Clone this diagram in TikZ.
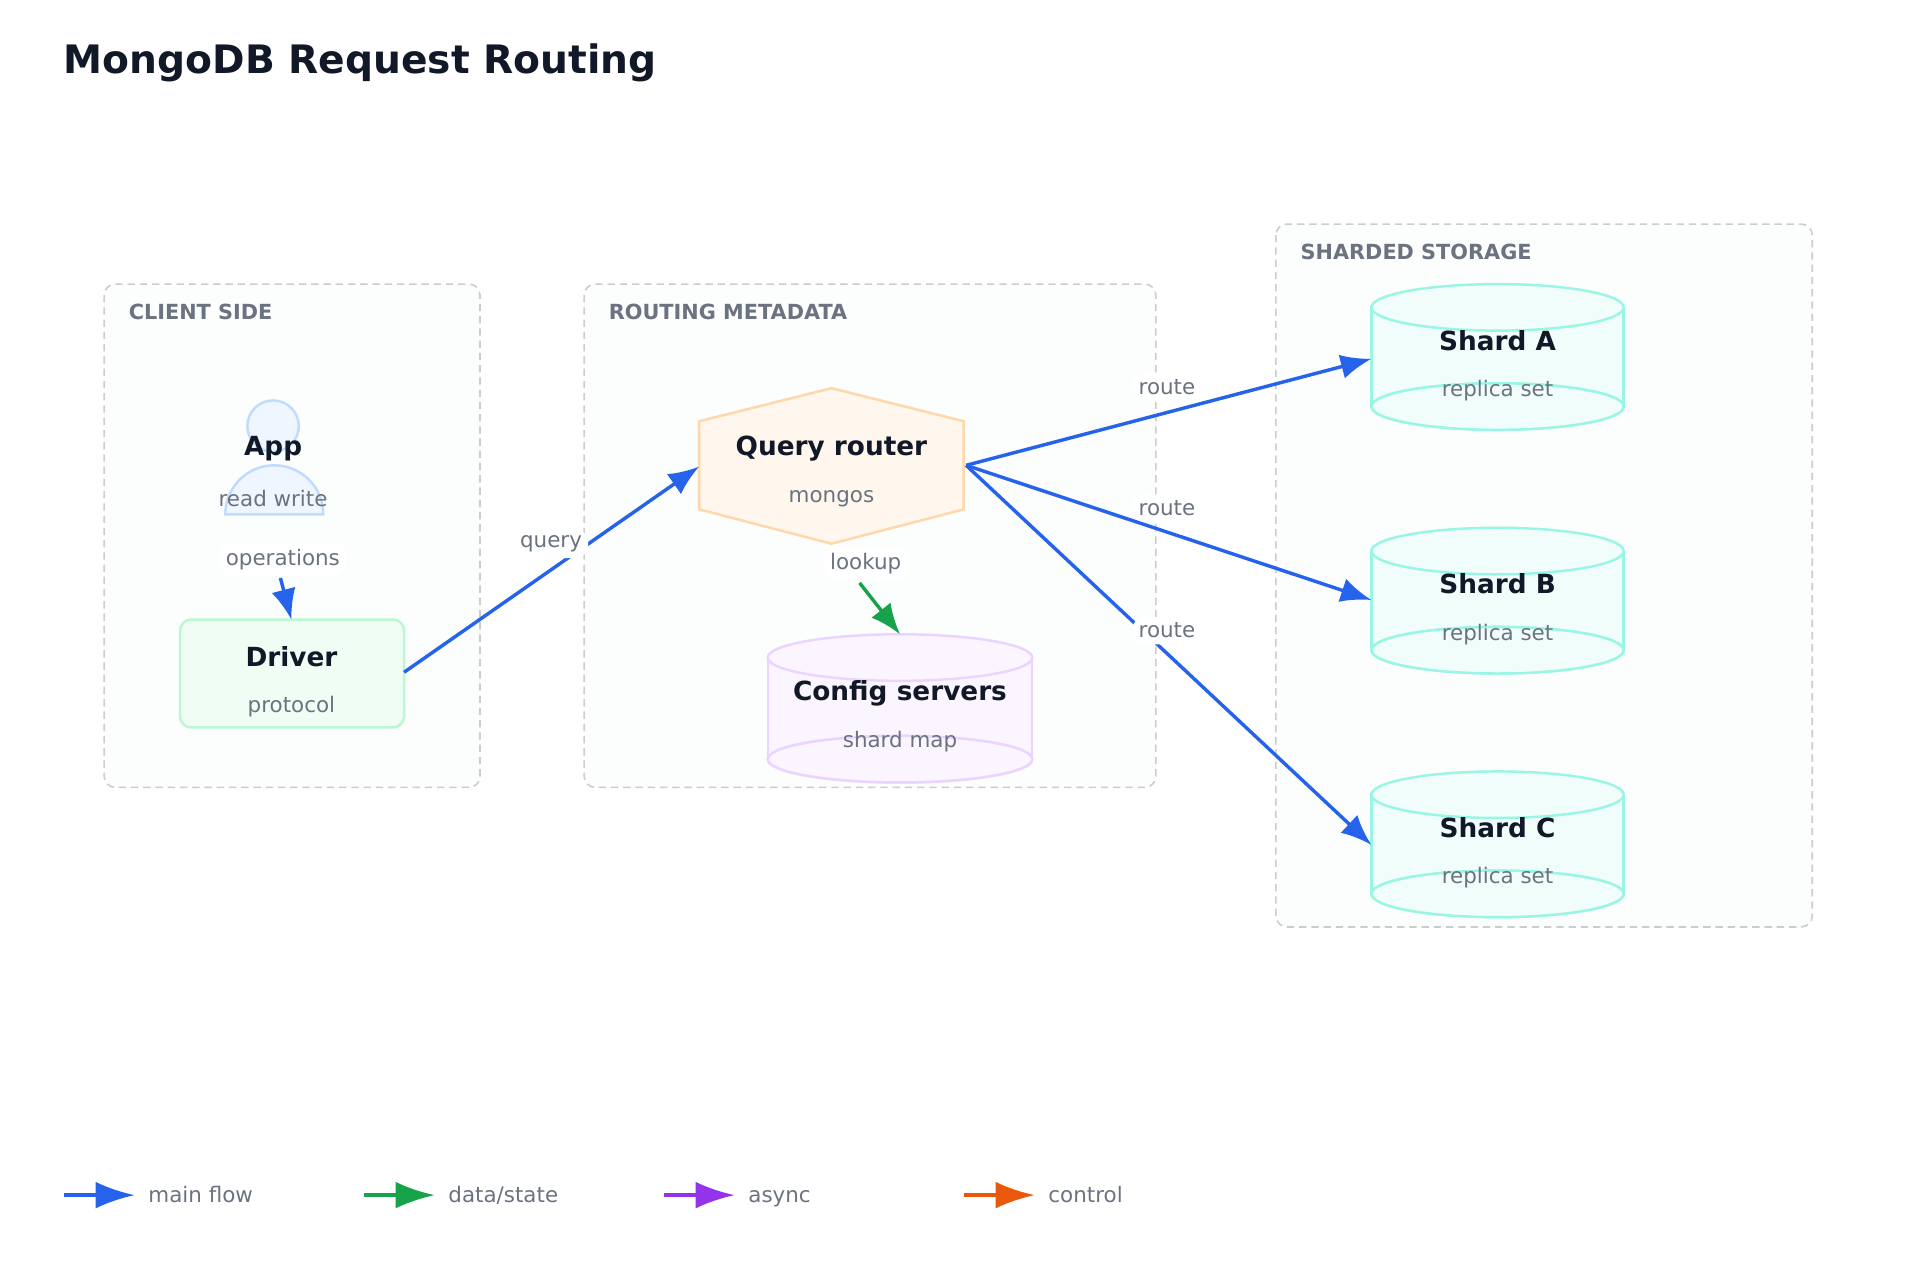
\documentclass[tikz,border=0pt]{standalone}
\usepackage{fontspec}
\setmainfont{DejaVu Sans}
\usetikzlibrary{arrows.meta}
\definecolor{ink}{HTML}{111827}
\definecolor{mute}{HTML}{6B7280}
\definecolor{blu}{HTML}{2563EB}
\definecolor{grn}{HTML}{16A34A}
\definecolor{pur}{HTML}{9333EA}
\definecolor{org}{HTML}{EA580C}
\definecolor{appS}{HTML}{BFDBFE}\definecolor{appF}{HTML}{EFF6FF}
\definecolor{drvS}{HTML}{BBF7D0}\definecolor{drvF}{HTML}{F0FDF4}
\definecolor{hexS}{HTML}{FED7AA}\definecolor{hexF}{HTML}{FFF7ED}
\definecolor{cfgS}{HTML}{E9D5FF}\definecolor{cfgF}{HTML}{FAF5FF}
\definecolor{shS}{HTML}{99F6E4}\definecolor{shF}{HTML}{F0FDFA}
\definecolor{grpF}{HTML}{FCFDFD}
\tikzset{
 grp/.style={draw=black!20,dash pattern=on 6pt off 4pt,line width=1.3pt,fill=grpF,rounded corners=9pt},
 glab/.style={anchor=west,text=mute,font=\fontsize{17}{20}\selectfont\bfseries},
 ttl/.style={text=ink,font=\fontsize{21.5}{25}\selectfont\bfseries},
 sub/.style={text=mute,font=\fontsize{17.5}{20}\selectfont},
 elab/.style={text=mute,fill=white,rounded corners=10pt,inner sep=5pt,font=\fontsize{17.5}{20}\selectfont},
 arr/.style={line width=2.8pt,-{Latex[length=25pt,width=20pt]}},
}
\begin{document}
\begin{tikzpicture}[x=1pt,y=-1pt]
\useasboundingbox (0,0) rectangle (1568,1045);
\node[anchor=west,text=ink,font=\fontsize{32}{38}\selectfont\bfseries,inner sep=0pt] (title) at (52,51) {MongoDB Request Routing};
% groups
\draw[grp] (85,232) rectangle (392,643);
\node[glab,inner sep=0pt] (g1) at (105,255) {CLIENT SIDE};
\draw[grp] (477,232) rectangle (944,643);
\node[glab,inner sep=0pt] (g2) at (497,255) {ROUTING METADATA};
\draw[grp] (1042,183) rectangle (1480,757);
\node[glab,inner sep=0pt] (g3) at (1062,206) {SHARDED STORAGE};
% App person
\filldraw[draw=appS,fill=appF,line width=2pt] (223,348) circle (21);
\filldraw[draw=appS,fill=appF,line width=2pt] (184,420) arc[start angle=180,end angle=0,x radius=40,y radius=-40] -- cycle;
\node[ttl] (app) at (223,366) {App};
\node[sub] (appsub) at (223,407) {read write};
\coordinate (appout) at (229,472);
% Driver
\draw[draw=drvS,fill=drvF,line width=2pt,rounded corners=9pt] (147,506) rectangle (330,594);
\node[ttl] (drv) at (238,536) {Driver};
\node[sub] (drvsub) at (238,577) {protocol};
\coordinate (drvin) at (238,506);
\coordinate (drvout) at (330,549);
% Hexagon
\filldraw[draw=hexS,fill=hexF,line width=2pt] (571,344)--(679,317)--(787,344)--(787,416)--(679,444)--(571,416)--cycle;
\node[ttl] (qr) at (679,366) {Query router};
\node[sub] (qrsub) at (679,407) {mongos};
\coordinate (qrin) at (571,381);
\coordinate (qrout) at (789,380);
\coordinate (qrlk) at (702,476);
% cylinders
\newcommand{\cyl}[6]{%
 \fill[#6] (#1,#3) rectangle (#2,#4);
 \fill[#6] ({(#1+#2)/2},#4) ellipse[x radius={(#2-#1)/2},y radius=#5];
 \draw[#6] ({(#1+#2)/2},#4) ellipse[x radius={(#2-#1)/2},y radius=#5];
 \draw[#6] (#1,#3)--(#1,#4) (#2,#3)--(#2,#4);
 \filldraw[#6] ({(#1+#2)/2},#3) ellipse[x radius={(#2-#1)/2},y radius=#5];
}
\cyl{627}{843}{537}{620}{19}{draw=cfgS,fill=cfgF,line width=2pt}
\node[ttl] (cfg) at (735,566) {Config servers};
\node[sub] (cfgsub) at (735,606) {shard map};
\coordinate (cfgin) at (735,518);
\foreach \n/\d in {A/0,B/199,C/398}{
 \cyl{1120}{1326}{251+\d}{332+\d}{19}{draw=shS,fill=shF,line width=2pt}
 \node[ttl] (sh\n) at (1223,278+\d) {Shard \n};
 \node[sub] (sh\n sub) at (1223,319+\d) {replica set};
}
\coordinate (inA) at (1120,293);
\coordinate (inB) at (1120,490);
\coordinate (inC) at (1120,690);
% connectors
\draw[arr,blu] (appout) -- (drvin);
\node[elab] (l1) at (231,457) {operations};
\draw[arr,blu] (drvout) -- (qrin);
\node[elab] (l2) at (450,444) {query};
\draw[arr,blu] (qrout) -- (inA);
\draw[arr,blu] (qrout) -- (inB);
\draw[arr,blu] (qrout) -- (inC);
\node[elab] (l3) at (953,316) {route};
\node[elab] (l4) at (953,415) {route};
\node[elab] (l5) at (953,515) {route};
\draw[arr,grn] (qrlk) -- (cfgin);
\node[elab] (l6) at (707,460) {lookup};
% legend
\foreach \x/\c/\t/\k in {52/blu/{main flow}/a,297/grn/{data/state}/b,542/pur/{async}/c,787/org/{control}/d}{
 \coordinate (ls\k) at (\x,976);
 \coordinate (le\k) at (\x+58,976);
 \draw[line width=2.8pt,\c,-{Latex[length=32pt,width=22pt]}] (ls\k) -- (le\k);
 \node[sub,anchor=base west,inner sep=0pt] (lt\k) at (\x+69,982) {\t};
}
\end{tikzpicture}
\end{document}
